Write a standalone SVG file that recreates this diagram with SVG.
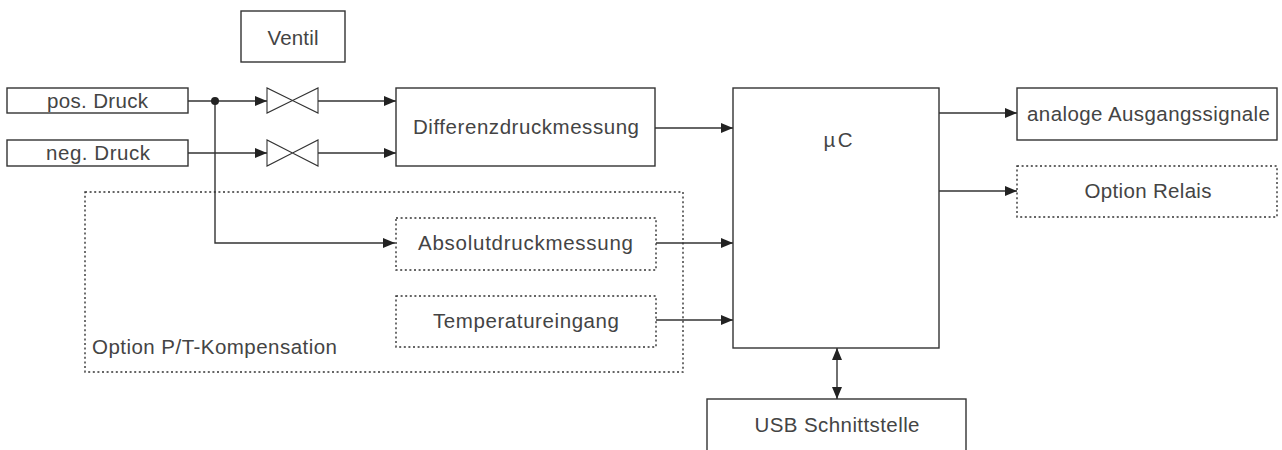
<svg xmlns="http://www.w3.org/2000/svg" width="1282" height="450" viewBox="0 0 1282 450">
<defs>
<style>
.box{fill:#fff;stroke:#333;stroke-width:1.4}
.dot{fill:none;stroke:#333;stroke-width:1.4;stroke-dasharray:2 2.6}
.ln{fill:none;stroke:#333;stroke-width:1.4}
.arr{marker-end:url(#ah)}
.t{font-family:"Liberation Sans",Arial,sans-serif;font-size:20.5px;fill:#444;text-anchor:middle}
.valve{fill:#fff;stroke:#333;stroke-width:1.1}
</style>
<marker id="ah" markerUnits="userSpaceOnUse" markerWidth="13" markerHeight="12" refX="12" refY="6" orient="auto">
<path d="M0,1 L12,6 L0,11 z" fill="#222"/>
</marker>
<marker id="ahs" markerUnits="userSpaceOnUse" markerWidth="13" markerHeight="12" refX="12" refY="6" orient="auto-start-reverse">
<path d="M0,1 L12,6 L0,11 z" fill="#222"/>
</marker>
</defs>
<rect width="1282" height="450" fill="#fff"/>

<g id="pt-option">
<rect class="dot" x="85" y="192" width="598" height="180"/>
<text class="t" x="92" y="354" style="text-anchor:start" textLength="245" lengthAdjust="spacing">Option P/T-Kompensation</text>
</g>

<g id="connectors">
<polyline class="ln arr" points="188,101 267,101"/>
<polyline class="ln arr" points="188,153 267,153"/>
<polyline class="ln arr" points="318,101 396,101"/>
<polyline class="ln arr" points="318,153 396,153"/>
<polyline class="ln arr" points="215,101 215,243 395,243"/>
<circle cx="215" cy="101" r="4" fill="#222"/>
<polyline class="ln arr" points="655,128 733,128"/>
<polyline class="ln arr" points="656,243 733,243"/>
<polyline class="ln arr" points="656,320 733,320"/>
<polyline class="ln arr" points="939,113 1017,113"/>
<polyline class="ln arr" points="939,191 1017,191"/>
<line class="ln" x1="837" y1="348" x2="837" y2="399" marker-start="url(#ahs)" marker-end="url(#ah)"/>
</g>

<g id="ventil">
<rect class="box" x="241" y="11" width="104" height="51"/>
<text class="t" x="293" y="45" textLength="51" lengthAdjust="spacing">Ventil</text>
</g>

<g id="valve-pos">
<path class="valve" d="M267,88 L267,113 L292.5,100.5 z M318,88 L318,113 L292.5,100.5 z"/>
</g>
<g id="valve-neg">
<path class="valve" d="M267,140 L267,166 L292.5,153 z M318,140 L318,166 L292.5,153 z"/>
</g>

<g id="pos-druck">
<rect class="box" x="7" y="88" width="181" height="25"/>
<text class="t" x="97.5" y="107.5" textLength="101" lengthAdjust="spacing">pos. Druck</text>
</g>
<g id="neg-druck">
<rect class="box" x="7" y="140" width="181" height="26"/>
<text class="t" x="98" y="159.5" textLength="104" lengthAdjust="spacing">neg. Druck</text>
</g>

<g id="differenzdruck">
<rect class="box" x="396" y="88" width="259" height="78"/>
<text class="t" x="526" y="134" textLength="226" lengthAdjust="spacing">Differenzdruckmessung</text>
</g>

<g id="absolutdruck">
<rect class="dot" x="396" y="218" width="260" height="52"/>
<text class="t" x="525.5" y="250" textLength="215" lengthAdjust="spacing">Absolutdruckmessung</text>
</g>

<g id="temperatur">
<rect class="dot" x="396" y="296" width="260" height="51"/>
<text class="t" x="526" y="328" textLength="186" lengthAdjust="spacing">Temperatureingang</text>
</g>

<g id="uc">
<rect class="box" x="733" y="88" width="206" height="260"/>
<text class="t" x="838" y="147" textLength="29" lengthAdjust="spacing">µC</text>
</g>

<g id="analog-out">
<rect class="box" x="1017" y="88" width="260" height="52"/>
<text class="t" x="1148.5" y="120.5" textLength="243" lengthAdjust="spacing">analoge Ausgangssignale</text>
</g>

<g id="relais">
<rect class="dot" x="1017" y="166" width="260" height="51"/>
<text class="t" x="1148" y="197.5" textLength="127" lengthAdjust="spacing">Option Relais</text>
</g>

<g id="usb">
<rect class="box" x="707" y="399" width="259" height="70"/>
<text class="t" x="837" y="432" textLength="165" lengthAdjust="spacing">USB Schnittstelle</text>
</g>
</svg>
